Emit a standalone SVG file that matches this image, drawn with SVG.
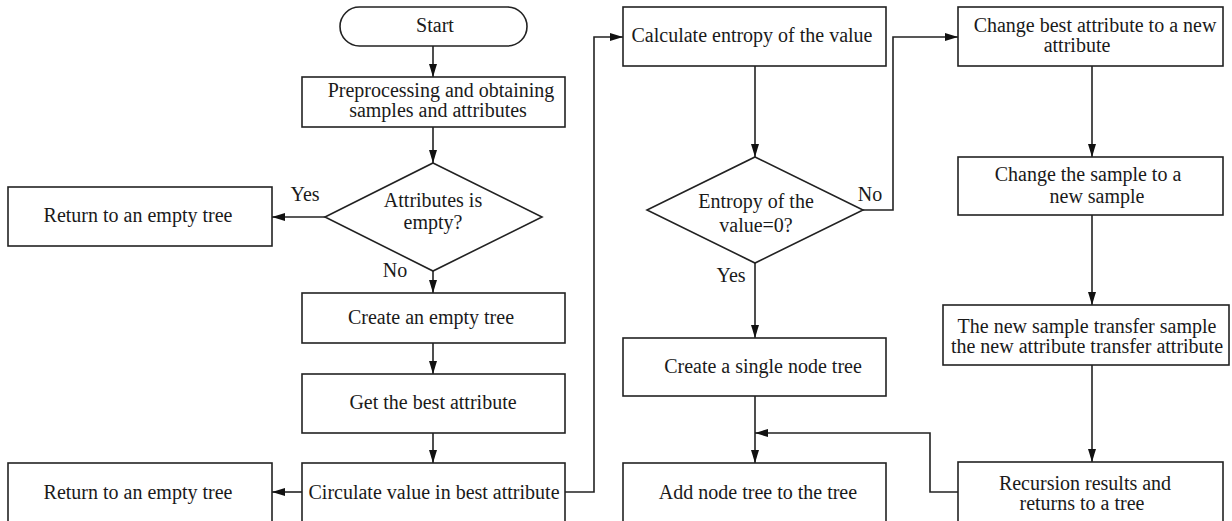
<svg xmlns="http://www.w3.org/2000/svg" width="1232" height="521" viewBox="0 0 1232 521">
  <style>
    .box { fill: #ffffff; stroke: #222222; stroke-width: 1.6; }
    .edge { fill: none; stroke: #222222; stroke-width: 1.6; }
    text { font-family: "Liberation Serif", "Times New Roman", serif; font-size: 20px; fill: #1a1a1a; text-anchor: middle; }
  </style>
  <defs>
    <marker id="arrow" markerUnits="userSpaceOnUse" markerWidth="13" markerHeight="8" refX="13" refY="4" orient="auto">
      <path d="M0,0 L13,4 L0,8 z" fill="#111111"/>
    </marker>
  </defs>
  <rect width="1232" height="521" fill="#ffffff"/>

  <g id="connectors">
    <path class="edge" d="M433,46 L433,77" marker-end="url(#arrow)"/>
    <path class="edge" d="M433,127 L433,163" marker-end="url(#arrow)"/>
    <path class="edge" d="M325,217 L272,217" marker-end="url(#arrow)"/>
    <path class="edge" d="M433,271 L433,293" marker-end="url(#arrow)"/>
    <path class="edge" d="M433,343 L433,374" marker-end="url(#arrow)"/>
    <path class="edge" d="M433,433 L433,463" marker-end="url(#arrow)"/>
    <path class="edge" d="M302,492 L272,492" marker-end="url(#arrow)"/>
    <path class="edge" d="M565,492 L594,492 L594,37 L623,37" marker-end="url(#arrow)"/>
    <path class="edge" d="M755,66 L755,157" marker-end="url(#arrow)"/>
    <path class="edge" d="M863,210 L893,210 L893,37 L958,37" marker-end="url(#arrow)"/>
    <path class="edge" d="M755,263 L755,338" marker-end="url(#arrow)"/>
    <path class="edge" d="M1092,66 L1092,157" marker-end="url(#arrow)"/>
    <path class="edge" d="M1092,215 L1092,305" marker-end="url(#arrow)"/>
    <path class="edge" d="M1092,365 L1092,462" marker-end="url(#arrow)"/>
    <path class="edge" d="M755,396 L755,463" marker-end="url(#arrow)"/>
    <path class="edge" d="M958,492 L930,492 L930,433 L755,433" marker-end="url(#arrow)"/>
    <text x="305" y="201">Yes</text>
    <text x="395" y="277">No</text>
    <text x="870" y="201">No</text>
    <text x="731" y="282">Yes</text>
  </g>

  <g id="start">
    <rect class="box" x="340" y="7" width="187" height="39" rx="19.5" ry="19.5"/>
    <text x="435" y="32">Start</text>
  </g>
  <g id="preprocess">
    <rect class="box" x="302" y="77" width="263" height="50"/>
    <text x="441" y="97">Preprocessing and obtaining</text>
    <text x="438" y="117">samples and attributes</text>
  </g>
  <g id="attributes-empty">
    <polygon class="box" points="433,163 542,217 433,271 325,217"/>
    <text x="433" y="207">Attributes is</text>
    <text x="433" y="229">empty?</text>
  </g>
  <g id="return-empty-1">
    <rect class="box" x="8" y="187" width="264" height="59"/>
    <text x="138" y="222">Return to an empty tree</text>
  </g>
  <g id="create-empty">
    <rect class="box" x="302" y="293" width="263" height="50"/>
    <text x="431" y="324">Create an empty tree</text>
  </g>
  <g id="get-best">
    <rect class="box" x="302" y="374" width="263" height="59"/>
    <text x="433" y="409">Get the best attribute</text>
  </g>
  <g id="circulate">
    <rect class="box" x="302" y="463" width="263" height="72"/>
    <text x="434" y="499">Circulate value in best attribute</text>
  </g>
  <g id="return-empty-2">
    <rect class="box" x="8" y="463" width="264" height="72"/>
    <text x="138" y="499">Return to an empty tree</text>
  </g>
  <g id="calc-entropy">
    <rect class="box" x="623" y="7" width="263" height="59"/>
    <text x="752" y="42">Calculate entropy of the value</text>
  </g>
  <g id="entropy-zero">
    <polygon class="box" points="755,157 863,210 755,263 647,210"/>
    <text x="756" y="208">Entropy of the</text>
    <text x="756" y="232">value=0?</text>
  </g>
  <g id="single-node">
    <rect class="box" x="623" y="338" width="263" height="58"/>
    <text x="763" y="373">Create a single node tree</text>
  </g>
  <g id="add-node">
    <rect class="box" x="623" y="463" width="263" height="72"/>
    <text x="758" y="499">Add node tree to the tree</text>
  </g>
  <g id="change-best">
    <rect class="box" x="958" y="7" width="265" height="59"/>
    <text x="1095" y="32">Change best attribute to a new</text>
    <text x="1077" y="52">attribute</text>
  </g>
  <g id="change-sample">
    <rect class="box" x="958" y="157" width="265" height="58"/>
    <text x="1088" y="181">Change the sample to a</text>
    <text x="1097" y="203">new sample</text>
  </g>
  <g id="new-sample-transfer">
    <rect class="box" x="943" y="305" width="286" height="60"/>
    <text x="1087" y="333">The new sample transfer sample</text>
    <text x="1087" y="353">the new attribute transfer attribute</text>
  </g>
  <g id="recursion">
    <rect class="box" x="958" y="462" width="265" height="73"/>
    <text x="1085" y="490">Recursion results and</text>
    <text x="1082" y="510">returns to a tree</text>
  </g>
</svg>
